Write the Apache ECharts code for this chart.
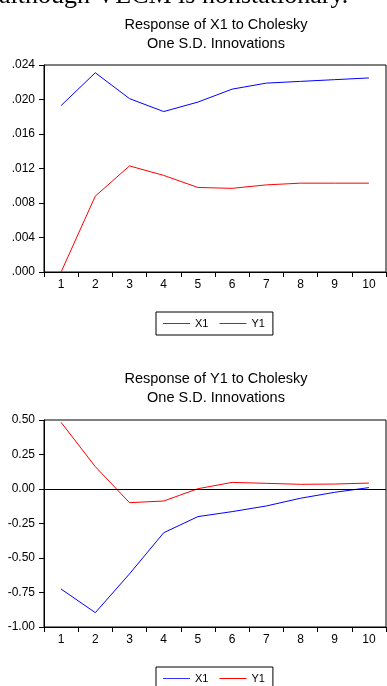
<!DOCTYPE html>
<html>
<head>
<meta charset="utf-8">
<script src="https://cdn.jsdelivr.net/npm/echarts@6/dist/echarts.min.js"></script>
<style>
html,body{margin:0;padding:0;background:#fff;}
#chart{width:387px;height:686px;}
</style>
</head>
<body>
<div id="chart"></div>
<script>
const periods = ['1','2','3','4','5','6','7','8','9','10'];
const seriesNames = ['X1', 'Y1'];
const topX1 = [0.0193, 0.0231, 0.0201, 0.0186, 0.0197, 0.0212, 0.0219, 0.0221, 0.0223, 0.0225];
const topY1 = [0.0000, 0.0088, 0.0123, 0.0112, 0.0098, 0.0097, 0.0101, 0.0103, 0.0103, 0.0103];
const botX1 = [-0.725, -0.896, -0.615, -0.317, -0.200, -0.164, -0.123, -0.067, -0.024, 0.010];
const botY1 = [0.483, 0.162, -0.099, -0.087, 0.002, 0.048, 0.041, 0.034, 0.036, 0.043];
const topTitle = 'Response of X1 to Cholesky\nOne S.D. Innovations';
const botTitle = 'Response of Y1 to Cholesky\nOne S.D. Innovations';
const headerText = 'although VECM is nonstationary.';

const FONT = '"Liberation Sans", Arial, sans-serif';
const BLUE = '#0000ff', RED = '#ff0000';

const chart = echarts.init(document.getElementById('chart'), null, {renderer: 'canvas'});

function xAxisCfg(gridIndex) {
  return {
    type: 'category', gridIndex, data: periods, boundaryGap: true,
    axisLine: {show: true, onZero: false, lineStyle: {color: '#000', width: 1}},
    axisTick: {show: true, inside: false, length: 5, alignWithLabel: false, lineStyle: {color: '#000'}},
    axisLabel: {color: '#000', fontFamily: FONT, fontSize: 12, margin: 7},
    splitLine: {show: false}
  };
}
function yAxisCfg(gridIndex, min, max, interval, fmt) {
  return {
    type: 'value', gridIndex, min, max, interval,
    axisLine: {show: true, lineStyle: {color: '#000', width: 1}},
    axisTick: {show: true, inside: false, length: 5, lineStyle: {color: '#000'}},
    axisLabel: {color: '#000', fontFamily: FONT, fontSize: 12, margin: 9, formatter: fmt},
    splitLine: {show: false}
  };
}
function lineSeries(name, data, color, idx, extra) {
  return Object.assign({
    name, type: 'line', data, xAxisIndex: idx, yAxisIndex: idx,
    symbol: 'none', showSymbol: false, color: color,
    lineStyle: {color: color, width: 1}, itemStyle: {color: color},
    animation: false, z: 3
  }, extra || {});
}
function legendCfg(top) {
  return {
    data: [
      {name: seriesNames[0], itemStyle: {color: '#3333ff'}},
      {name: seriesNames[1], itemStyle: {color: RED}}
    ],
    left: 156, top: top, orient: 'horizontal',
    icon: 'rect', itemWidth: 27, itemHeight: 1, itemGap: 11,
    borderColor: '#000', borderWidth: 1, padding: [6, 8, 6, 7],
    textStyle: {color: '#000', fontFamily: FONT, fontSize: 11},
    selectedMode: false
  };
}

const option = {
  animation: false,
  backgroundColor: '#fff',
  graphic: [{
    type: 'text', x: -1, y: -4,
    style: {text: headerText, fontFamily: '"Liberation Serif", "Times New Roman", serif', fontSize: 26, fill: '#000', verticalAlign: 'middle', align: 'left'}
  }],
  title: [
    {text: topTitle, left: 211, top: 11, textAlign: 'center',
     textStyle: {fontFamily: FONT, fontSize: 14.5, fontWeight: 'normal', color: '#000', lineHeight: 18.5}},
    {text: botTitle, left: 211, top: 364, textAlign: 'center',
     textStyle: {fontFamily: FONT, fontSize: 14.5, fontWeight: 'normal', color: '#000', lineHeight: 19}}
  ],
  legend: [legendCfg(312), legendCfg(667)],
  grid: [
    {left: 44, top: 65, width: 342, height: 207, show: true, borderColor: '#000', borderWidth: 1, backgroundColor: 'transparent'},
    {left: 44, top: 420, width: 342, height: 207, show: true, borderColor: '#000', borderWidth: 1, backgroundColor: 'transparent'}
  ],
  xAxis: [xAxisCfg(0), xAxisCfg(1)],
  yAxis: [
    yAxisCfg(0, 0, 0.024, 0.004, v => v.toFixed(3).replace(/^0/, '')),
    yAxisCfg(1, -1, 0.5, 0.25, v => v.toFixed(2))
  ],
  series: [
    lineSeries('X1', topX1, BLUE, 0),
    lineSeries('Y1', topY1, RED, 0),
    lineSeries('X1', botX1, BLUE, 1, {
      markLine: {silent: true, symbol: 'none', label: {show: false},
        lineStyle: {color: '#000', width: 1, type: 'solid'}, data: [{yAxis: 0}], animation: false}
    }),
    lineSeries('Y1', botY1, RED, 1)
  ]
};
chart.setOption(option);
</script>
</body>
</html>
